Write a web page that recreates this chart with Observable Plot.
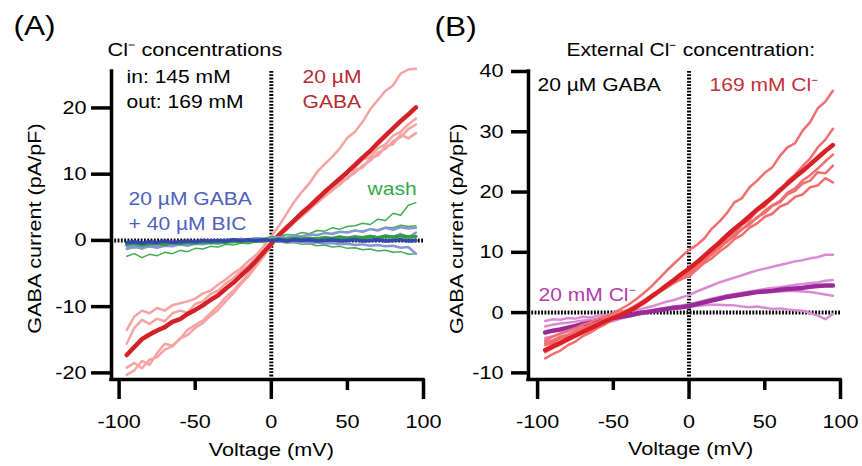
<!DOCTYPE html>
<html><head><meta charset="utf-8">
<script src="https://cdn.jsdelivr.net/npm/d3@7"></script>
<script src="https://cdn.jsdelivr.net/npm/@observablehq/plot@0.6"></script>
<style>
body{margin:0;background:#fff}
#wrap{display:flex;width:862px;height:466px;background:#fff}
#wrap svg{display:block;flex:none}
</style>
</head><body><div id="wrap"></div>
<script>
// ---------- data ----------
const voltage = [-95,-90,-85,-80,-75,-70,-65,-60,-55,-50,-45,-40,-35,-30,-25,-20,-15,-10,-5,0,5,10,15,20,25,30,35,40,45,50,55,60,65,70,75,80,85,90,95];

// Panel A: 20 µM GABA (mean + individual cells)
const aGabaMean = [-17.3,-16.1,-14.9,-14.2,-13.6,-13.1,-12.3,-11.9,-11.1,-10.5,-9.8,-9.0,-8.3,-7.3,-6.4,-5.3,-4.3,-3.1,-1.8,-0.5,0.8,1.9,3.0,4.1,5.1,6.2,7.3,8.3,9.3,10.3,11.4,12.5,13.5,14.7,15.8,16.9,18.0,19.0,20.1];
const aGabaCell1 = [-13.5,-11.5,-10.6,-11.0,-10.2,-10.6,-9.8,-9.5,-9.2,-8.8,-8.0,-7.6,-6.7,-5.9,-5.0,-4.2,-3.1,-2.2,-0.9,0.6,2.2,4.0,5.8,7.3,8.6,10.3,11.5,12.6,13.9,15.5,16.4,17.9,19.8,21.2,22.6,23.4,25.2,25.8,25.9];
const aGabaCell2 = [-19.2,-18.5,-19.3,-18.0,-17.6,-16.5,-16.0,-14.8,-14.3,-13.2,-12.5,-11.4,-10.5,-9.2,-8.0,-6.6,-5.4,-3.9,-2.4,-0.8,0.6,1.6,2.7,3.7,4.6,5.7,6.6,7.6,8.4,9.5,10.2,11.3,12.0,13.2,13.8,15.0,15.6,16.8,17.5];
const aGabaCell3 = [-20.3,-19.6,-18.2,-18.8,-17.0,-15.6,-15.9,-14.9,-13.5,-12.8,-12.1,-11.0,-9.9,-8.6,-7.6,-6.3,-5.0,-3.6,-2.2,-0.6,0.5,1.7,2.8,3.6,4.9,5.6,6.8,7.5,8.8,9.3,10.6,11.0,12.4,12.8,14.2,14.5,16.0,15.4,16.2];
const aGabaCell4 = [-15.6,-13.2,-12.0,-12.6,-11.8,-12.2,-11.0,-10.6,-10.9,-9.6,-9.2,-8.1,-7.6,-6.5,-5.7,-4.6,-3.8,-2.6,-1.5,-0.2,1.0,2.2,3.1,4.4,5.3,6.5,7.2,8.5,9.0,10.2,11.0,12.2,12.6,13.9,14.5,15.8,16.4,17.5,18.4];
// Panel A: wash
const aWashMean = [-0.6,-0.4,-0.7,-0.5,-0.4,-0.6,-0.3,-0.5,-0.3,-0.4,-0.2,-0.3,-0.2,-0.3,-0.1,-0.2,0.0,-0.1,0.1,0.0,0.2,0.1,0.3,0.2,0.3,0.2,0.4,0.3,0.5,0.3,0.5,0.4,0.6,0.4,0.6,0.5,0.7,0.5,0.6];
const aWashCell1 = [-1.2,-0.9,-1.3,-0.8,-1.0,-0.6,-0.9,-0.5,-0.7,-0.3,-0.5,-0.1,-0.3,0.1,-0.1,0.3,0.2,0.4,0.3,0.6,0.5,0.9,0.8,1.2,1.0,1.5,1.4,1.9,1.7,2.1,2.2,2.6,2.4,3.2,3.0,4.1,3.8,5.3,5.7];
const aWashCell2 = [-0.9,-1.1,-0.7,-1.0,-0.6,-0.9,-0.5,-0.7,-0.4,-0.6,-0.3,-0.4,-0.1,-0.3,0.0,-0.1,0.2,0.0,0.3,0.1,0.4,0.3,0.6,0.5,0.9,0.7,1.1,0.9,1.3,1.2,1.5,1.4,1.7,1.6,2.0,1.9,2.3,2.1,2.2];
const aWashCell3 = [-2.4,-2.0,-2.6,-2.1,-2.3,-1.8,-2.0,-1.5,-1.7,-1.2,-1.3,-0.9,-1.0,-0.6,-0.7,-0.4,-0.5,-0.2,-0.3,0.0,-0.2,-0.4,-0.3,-0.6,-0.5,-0.8,-0.7,-1.0,-0.9,-1.2,-1.1,-1.4,-1.3,-1.6,-1.5,-1.8,-1.7,-2.1,-2.0];
// Panel A: 20 µM GABA + 40 µM BIC
const aBicMean = [-0.3,-0.2,-0.4,-0.2,-0.3,-0.1,-0.3,-0.2,-0.1,-0.2,0.0,-0.1,0.0,-0.1,0.1,0.0,0.1,0.0,0.1,0.0,0.1,-0.1,0.1,0.0,0.1,-0.1,0.0,0.1,-0.1,0.0,0.1,-0.1,0.0,0.1,-0.1,0.0,0.1,-0.1,0.0];
const aBicCell1 = [-0.9,-0.6,-0.8,-0.5,-0.7,-0.4,-0.5,-0.3,-0.4,-0.2,-0.3,0.0,-0.1,0.1,0.0,0.2,0.1,0.3,0.2,0.3,0.5,0.4,0.7,0.6,0.9,0.8,1.1,1.0,1.3,1.2,1.5,1.3,1.7,1.5,1.9,1.6,2.0,1.8,1.9];
const aBicCell2 = [-1.3,-1.0,-1.2,-0.9,-1.1,-0.8,-0.9,-0.6,-0.8,-0.5,-0.6,-0.4,-0.5,-0.2,-0.3,-0.1,-0.2,0.0,-0.1,0.0,-0.2,-0.1,-0.3,-0.2,-0.4,-0.3,-0.5,-0.4,-0.6,-0.5,-0.7,-0.6,-0.8,-0.7,-0.9,-0.8,-1.1,-1.0,-2.0];
const aBicCell3 = [-0.5,-0.8,-0.4,-0.7,-0.3,-0.6,-0.2,-0.5,-0.3,-0.4,-0.1,-0.3,0.0,-0.2,0.1,-0.1,0.2,0.0,0.1,0.0,0.2,0.1,0.3,0.2,0.4,0.2,0.5,0.3,0.5,0.4,0.6,0.3,0.7,0.4,0.8,0.5,1.0,0.4,1.2];

// Panel B: 169 mM external Cl-
const b169Mean = [-6.2,-5.6,-5.0,-4.4,-3.8,-3.2,-2.6,-2.0,-1.4,-0.9,-0.4,0.2,0.9,1.7,2.6,3.5,4.5,5.4,6.4,7.3,8.3,9.4,10.5,11.6,12.8,13.9,14.9,16.0,17.1,18.1,19.1,20.3,21.4,22.5,23.5,24.6,25.7,26.8,27.8];
const b169Cell1 = [-4.6,-4.0,-3.5,-3.0,-2.6,-2.0,-1.6,-1.0,-0.6,-0.1,0.6,1.3,2.2,3.2,4.3,5.6,6.9,8.1,9.3,10.4,11.2,12.3,13.9,15.1,16.5,18.3,19.0,20.8,21.9,23.2,24.1,26.0,27.4,28.1,30.2,31.6,33.9,35.0,36.8];
const b169Cell2 = [-5.4,-5.0,-4.3,-3.9,-3.2,-2.8,-2.1,-1.7,-1.0,-0.6,0.0,0.5,1.2,2.0,2.8,3.7,4.5,5.3,6.2,7.0,8.1,9.0,10.2,11.1,12.4,13.2,14.6,15.4,16.9,17.6,19.3,20.1,21.8,22.9,24.3,25.6,27.4,28.7,30.5];
const b169Cell3 = [-6.6,-5.9,-5.3,-4.6,-4.0,-3.3,-2.9,-2.1,-1.6,-0.9,-0.3,0.4,1.0,1.8,2.5,3.4,4.1,4.9,5.6,6.3,7.6,8.7,9.6,10.8,11.7,12.9,13.8,14.9,15.7,16.9,17.8,18.5,19.9,20.6,21.9,22.8,23.9,25.1,26.2];
const b169Cell4 = [-7.6,-6.9,-6.3,-5.4,-4.8,-3.9,-3.3,-2.5,-1.9,-1.0,-0.5,0.3,1.1,1.9,2.9,3.6,4.6,5.2,6.1,6.6,7.8,8.5,9.9,10.6,11.9,12.6,13.9,14.6,15.9,16.5,17.7,18.3,19.6,20.2,21.4,21.9,23.3,23.1,24.4];
const b169Cell5 = [-5.0,-4.6,-4.0,-3.7,-3.1,-2.6,-2.1,-1.6,-1.0,-0.6,0.0,0.5,1.2,1.9,2.6,3.5,4.2,5.0,5.6,6.0,7.1,8.2,9.0,10.1,11.0,12.2,12.9,14.1,14.8,15.9,16.4,17.6,18.1,19.2,19.6,20.8,21.1,22.3,21.6];
// Panel B: 20 mM external Cl-
const b20Mean = [-3.3,-3.0,-2.8,-2.5,-2.2,-1.9,-1.7,-1.4,-1.1,-0.9,-0.7,-0.5,-0.2,0.0,0.2,0.4,0.6,0.8,0.9,1.1,1.4,1.7,2.0,2.3,2.6,2.8,3.0,3.2,3.4,3.5,3.6,3.8,3.9,4.0,4.1,4.3,4.4,4.5,4.5];
const b20Cell1 = [-1.4,-1.1,-1.2,-0.9,-1.0,-0.7,-0.8,-0.5,-0.4,-0.2,0.0,0.2,0.4,0.7,1.0,1.4,1.8,2.1,2.5,2.9,3.5,4.0,4.5,5.0,5.4,5.8,6.2,6.6,7.0,7.3,7.6,7.9,8.2,8.5,8.7,9.0,9.2,9.6,9.6];
const b20Cell2 = [-4.2,-3.9,-3.5,-3.2,-2.8,-2.5,-2.1,-1.8,-1.5,-1.1,-0.8,-0.5,-0.2,0.1,0.4,0.6,0.8,1.0,1.2,1.4,1.7,2.0,2.3,2.6,2.9,3.1,3.3,3.5,3.7,3.9,4.1,4.2,4.4,4.6,4.7,4.9,5.0,5.3,5.4];
const b20Cell3 = [-5.0,-4.6,-4.1,-3.7,-3.3,-2.9,-2.5,-2.1,-1.7,-1.4,-1.0,-0.7,-0.4,-0.1,0.2,0.4,0.6,0.8,1.0,1.2,1.5,1.8,2.1,2.4,2.6,2.8,3.0,3.1,3.3,3.4,3.5,3.5,3.6,3.6,3.5,3.4,3.2,3.0,2.8];
const b20Cell4 = [-2.3,-2.0,-1.8,-1.7,-1.5,-1.3,-1.2,-1.0,-0.9,-0.7,-0.6,-0.4,-0.2,0.0,0.2,0.3,0.5,0.6,0.8,1.0,1.1,1.2,1.3,1.3,1.2,1.2,1.0,0.9,1.0,0.8,0.6,0.7,0.5,0.4,0.3,-0.1,-0.5,-1.1,-0.2];

// axis ticks
const aYTicks = [-20,-10,0,10,20];
const bYTicks = [-10,0,10,20,30,40];
const xMajorTicks = [-100,0,100];
const xMinorTicks = [-50,50];

// ---------- helpers ----------
const FONT = "'Liberation Sans', Arial, Helvetica, sans-serif";
const rows = (vals, id) => voltage.map((v, i) => ({v, c: vals[i], id}));
const group = (list) => list.flatMap(([vals, id]) => rows(vals, id));
const fmt = d => String(d);
const dotted = {stroke: "#000", strokeWidth: 4, strokeDasharray: "1.8,1.5"};
const axisLine = {stroke: "#000", strokeWidth: 3.5, strokeLinecap: "square"};
const line = (data, stroke, strokeWidth) =>
  Plot.line(data, {x: "v", y: "c", z: "id", stroke, strokeWidth, strokeLinejoin: "round", strokeLinecap: "round"});
const label = (txt, x, y, opts = {}) =>
  Plot.text([txt], {x, y, text: d => d, textAnchor: "start", fontSize: 18, fill: "#000", ...opts});

function stretchText(svg, k) {
  d3.select(svg).selectAll("text").each(function () {
    const t = this.getAttribute("transform");
    if (t) this.setAttribute("transform", t + ` scale(${k},1)`);
    else {
      const x = +this.getAttribute("x") || 0, y = +this.getAttribute("y") || 0;
      this.removeAttribute("x"); this.removeAttribute("y");
      this.setAttribute("transform", `translate(${x},${y}) scale(${k},1)`);
    }
  });
  return svg;
}

// ---------- panel A ----------
const xDomA = [-105, 100], yDomA = [-21, 25.5];
const plotA = Plot.plot({
  width: 431, height: 466,
  marginLeft: 111, marginRight: 8, marginTop: 71, marginBottom: 87,
  x: {domain: xDomA, label: null},
  y: {domain: yDomA, label: null},
  style: {fontFamily: FONT, background: "transparent", color: "#000", overflow: "visible", position: "relative", zIndex: 2},
  marks: [
    Plot.ruleY([0], dotted),
    Plot.ruleX([0], dotted),
    line(group([[aGabaCell1, "c1"], [aGabaCell2, "c2"], [aGabaCell3, "c3"], [aGabaCell4, "c4"]]), "#f6a3a3", 2.5),
    line(rows(aGabaMean, "m"), "#d42128", 4.5),
    line(group([[aWashCell1, "w1"], [aWashCell2, "w2"], [aWashCell3, "w3"]]), "#41ad4f", 1.5),
    line(group([[aBicCell1, "b1"], [aBicCell2, "b2"], [aBicCell3, "b3"]]), "#8794d6", 2.5),
    line(rows(aWashMean, "wm"), "#2e9e3f", 3.5),
    line(rows(aBicMean, "bm"), "#3546b0", 3.5),
    Plot.ruleX([xDomA[0]], axisLine),
    Plot.ruleY([yDomA[0]], axisLine),
    Plot.axisY({ticks: aYTicks, tickSize: 20, tickPadding: 5, strokeWidth: 3.5, fontSize: 18.5, tickFormat: fmt, label: null}),
    Plot.axisX({ticks: xMajorTicks, tickSize: 20, tickPadding: 15, strokeWidth: 3.5, fontSize: 18.5, tickFormat: fmt, label: null}),
    Plot.axisX({ticks: xMinorTicks, tickSize: 11, tickPadding: 24, strokeWidth: 3.5, fontSize: 18.5, tickFormat: fmt, label: null}),
    label("(A)", -169.4, 32.3, {fontSize: 27}),
    label("Cl⁻ concentrations", -107.6, 28.8, {fontSize: 18.5}),
    label("in: 145 mM", -95.1, 24.6),
    label("out: 169 mM", -95.1, 20.8),
    label("20 µM", 20.5, 24.6, {fill: "#b52a33"}),
    label("GABA", 20.5, 20.8, {fill: "#b52a33"}),
    label("wash", 63.2, 7.7, {fill: "#35a849"}),
    label("20 µM GABA", -93.8, 6.16, {fill: "#4f5fbb"}),
    label("+ 40 µM BIC", -93.8, 2.39, {fill: "#4f5fbb"}),
    label("Voltage (mV)", 0, -31.6, {textAnchor: "middle", fontSize: 18.5}),
    label("GABA current (pA/pF)", -154.9, 1.8, {textAnchor: "middle", fontSize: 18.5, rotate: -90})
  ]
});

// ---------- panel B ----------
const xDomB = [-106, 100], yDomB = [-11.1, 40];
const plotB = Plot.plot({
  width: 431, height: 466,
  marginLeft: 97, marginRight: 22, marginTop: 71, marginBottom: 87,
  x: {domain: xDomB, label: null},
  y: {domain: yDomB, label: null},
  style: {fontFamily: FONT, background: "transparent", color: "#000", overflow: "visible", position: "relative", zIndex: 1},
  marks: [
    Plot.ruleY([0], dotted),
    Plot.ruleX([0], dotted),
    line(group([[b20Cell1, "p1"], [b20Cell2, "p2"], [b20Cell3, "p3"], [b20Cell4, "p4"]]), "#da8bd3", 2.5),
    line(rows(b20Mean, "pm"), "#9a2a98", 4.5),
    line(group([[b169Cell1, "r1"], [b169Cell2, "r2"], [b169Cell3, "r3"], [b169Cell4, "r4"], [b169Cell5, "r5"]]), "#f26e6e", 2.5),
    line(rows(b169Mean, "rm"), "#d92027", 4.5),
    Plot.ruleX([xDomB[0]], axisLine),
    Plot.ruleY([yDomB[0]], axisLine),
    Plot.axisY({ticks: bYTicks, tickSize: 17, tickPadding: 8, strokeWidth: 3.5, fontSize: 18.5, tickFormat: fmt, label: null}),
    Plot.axisX({ticks: xMajorTicks, tickSize: 20, tickPadding: 15, strokeWidth: 3.5, fontSize: 18.5, tickFormat: fmt, label: null}),
    Plot.axisX({ticks: xMinorTicks, tickSize: 11, tickPadding: 24, strokeWidth: 3.5, fontSize: 18.5, tickFormat: fmt, label: null}),
    label("(B)", -168, 47.4, {fontSize: 27}),
    label("External Cl⁻ concentration:", -80.9, 43.6, {fontSize: 18}),
    label("20 µM GABA", -100.1, 37.66),
    label("169 mM Cl⁻", 13.5, 37.66, {fill: "#c3303b"}),
    label("20 mM Cl⁻", -99.4, 2.95, {fill: "#b13da9"}),
    label("Voltage (mV)", 1, -22.7, {textAnchor: "middle", fontSize: 18.5}),
    label("GABA current (pA/pF)", -153, 13.9, {textAnchor: "middle", fontSize: 18.5, rotate: -90})
  ]
});

const wrap = document.getElementById("wrap");
wrap.appendChild(stretchText(plotA, 1.17));
wrap.appendChild(stretchText(plotB, 1.17));
</script>
</body></html>
